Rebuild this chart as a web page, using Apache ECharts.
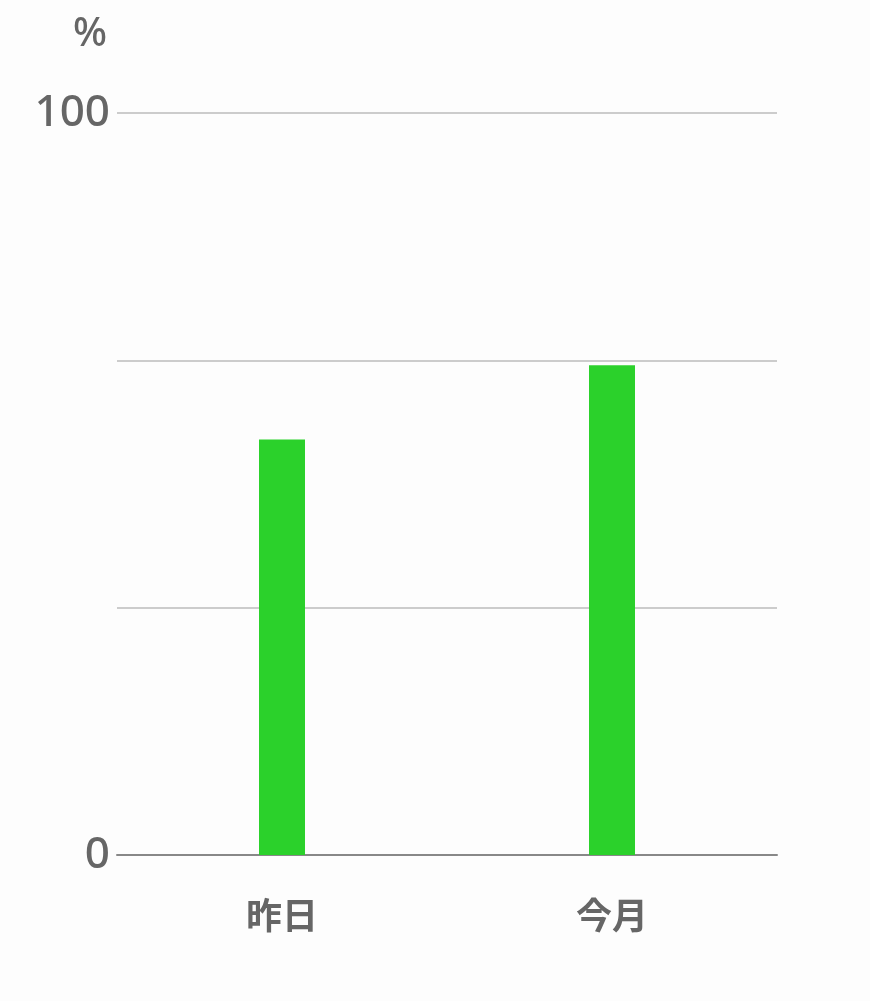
<!DOCTYPE html>
<html><head><meta charset="utf-8">
<script src="https://cdn.jsdelivr.net/npm/echarts@6/dist/echarts.min.js"></script>
<style>html,body{margin:0;padding:0;background:#fdfdfd;}#c{width:870px;height:1001px;}</style>
</head><body><div id="c"></div>
<script>
const categories = ['昨日', '今月'];
const values = [56, 66];
const yMin = 0, yMax = 100;
const unitLabel = '%';

const chart = echarts.init(document.getElementById('c'));
chart.setOption({
  backgroundColor: '#fdfdfd',
  animation: false,
  title: {
    text: unitLabel, left: 68, top: 10,
    textStyle: { color: '#666', fontSize: 40, fontWeight: 500, fontFamily: '"Noto Sans", sans-serif' }
  },
  grid: { left: 117, right: 93, top: 113, bottom: 146 },
  xAxis: {
    type: 'category', data: categories,
    axisLine: { lineStyle: { color: '#888', width: 2 } },
    axisTick: { show: false },
    axisLabel: { color: '#666', fontSize: 36, fontWeight: 'bold', margin: 42, fontFamily: '"Noto Sans CJK JP", sans-serif' }
  },
  yAxis: {
    type: 'value', min: yMin, max: yMax, interval: (yMax - yMin) / 3,
    axisLine: { show: false }, axisTick: { show: false },
    splitLine: { lineStyle: { color: '#cccccc', width: 2 } },
    axisLabel: {
      color: '#666', fontSize: 44, fontWeight: 500, margin: 7, fontFamily: '"Noto Sans", sans-serif',
      formatter: v => (Math.abs(v - yMin) < 1e-6 || Math.abs(v - yMax) < 1e-6) ? String(Math.round(v)) : ''
    }
  },
  series: [{
    type: 'bar', data: values, barWidth: 46,
    itemStyle: { color: '#2bd12b' }
  }]
});
</script></body></html>
